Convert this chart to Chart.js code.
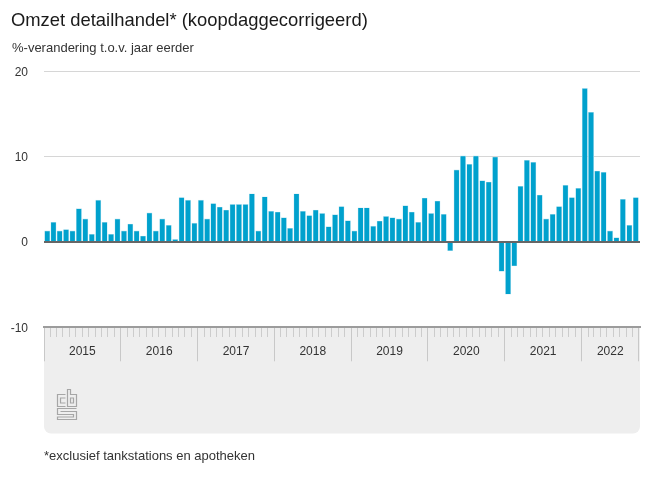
<!DOCTYPE html>
<html><head><meta charset="utf-8">
<script src="https://cdn.jsdelivr.net/npm/chart.js@4"></script>
<style>
html,body{margin:0;padding:0;background:#fff;width:650px;height:488px;overflow:hidden}
body{position:relative;font-family:"Liberation Sans",Arial,sans-serif;color:#333}
canvas{position:absolute;left:0;top:0}
.t{position:absolute;white-space:nowrap}
#title{left:11px;top:9px;font-size:18.4px;line-height:22px;color:#1a1a1a}
#sub{left:12px;top:40px;font-size:13px;line-height:15px}
#foot{left:44px;top:448px;font-size:13px;line-height:15px}
#logo{position:absolute;left:56px;top:389px}
</style></head><body>
<canvas id="c" width="650" height="488"></canvas>
<div class="t" id="title">Omzet detailhandel* (koopdaggecorrigeerd)</div>
<div class="t" id="sub">%-verandering t.o.v. jaar eerder</div>
<div class="t" id="foot">*exclusief tankstations en apotheken</div>
<svg id="logo" width="22" height="32" viewBox="0 0 22 32" fill="none" stroke="#a6a6a6" stroke-width="1.2">
<path d="M9.5 5.5H1.5V17.5H9.5M9.5 9H4.5V14H9.5M11.5 .5H14.5V5.5H20.5V17.5H11.5ZM14.5 9H17.5V14H14.5Z"/>
<path d="M20.5 19.5H1.5V25.5H17.5V28H1.5V30.5H20.5V22.5H4.5"/>
</svg>
<script>
const years = [2015, 2016, 2017, 2018, 2019, 2020, 2021, 2022];
const v2015 = [1.3, 2.3, 1.3, 1.45, 1.3, 3.9, 2.7, 0.9, 4.9, 2.3, 0.9, 2.7];
const v2016 = [1.3, 2.1, 1.3, 0.7, 3.4, 1.3, 2.7, 1.95, 0.3, 5.2, 4.9, 2.2];
const v2017 = [4.9, 2.7, 4.5, 4.1, 3.75, 4.4, 4.4, 4.4, 5.65, 1.3, 5.3, 3.6];
const v2018 = [3.5, 2.85, 1.6, 5.65, 3.6, 3.1, 3.75, 3.35, 1.8, 3.2, 4.15, 2.5];
const v2019 = [1.3, 4.0, 4.0, 1.85, 2.45, 3.0, 2.85, 2.7, 4.25, 3.5, 2.3, 5.15];
const v2020 = [3.35, 4.8, 3.25, -1.02, 8.44, 10.08, 9.1, 10.08, 7.19, 7.03, 9.96, -3.44];
const v2021 = [-6.13, -2.81, 6.53, 9.57, 9.34, 5.5, 2.7, 3.25, 4.15, 6.64, 5.2, 6.29];
const v2022 = [18.0, 15.2, 8.32, 8.17, 1.3, 0.5, 5.0, 1.95, 5.2];
const yearValues = [v2015, v2016, v2017, v2018, v2019, v2020, v2021, v2022];
const yTicks = [-10, 0, 10, 20];

const DAY = 86400000;
const dayOf = (y, m, d) => Date.UTC(y, m, d) / DAY;
const points = [], monthStarts = [], yearStarts = new Set(), midYears = new Map();
years.forEach((y, i) => {
  const vals = yearValues[i];
  yearStarts.add(dayOf(y, 0, 1));
  vals.forEach((v, m) => {
    const a = dayOf(y, m, 1), b = dayOf(y, m + 1, 1);
    monthStarts.push(a);
    points.push({x: (a + b) / 2, y: v});
  });
  midYears.set((dayOf(y, 0, 1) + dayOf(y, vals.length, 1)) / 2, String(y));
});
const lastYear = years[years.length - 1];
const dataEnd = dayOf(lastYear, yearValues[yearValues.length - 1].length, 1);
const xMax = dataEnd + 5;
yearStarts.add(dataEnd);

const frame = {
  id: 'frame',
  beforeDraw(chart) {
    const {ctx, chartArea: a} = chart;
    ctx.save();
    ctx.fillStyle = '#eeeeee';
    ctx.beginPath();
    ctx.roundRect(a.left, a.bottom, a.right - a.left, 433.5 - a.bottom, [0, 0, 7, 7]);
    ctx.fill();
    ctx.restore();
  },
  afterDatasetsDraw(chart) {
    const {ctx, chartArea: a, scales} = chart;
    const y0 = Math.round(scales.y.getPixelForValue(0));
    ctx.save();
    ctx.fillStyle = '#666666';
    ctx.fillRect(a.left, y0 - 1, a.right - a.left, 2);
    ctx.restore();
  }
};

new Chart(document.getElementById('c'), {
  type: 'bar',
  data: {datasets: [{
    data: points,
    backgroundColor: '#00a1cd',
    borderColor: '#b8e3f0',
    borderWidth: 0.6,
    barThickness: 5.3
  }]},
  options: {
    responsive: false,
    animation: false,
    layout: {padding: {top: 71.3, right: 10, left: 0, bottom: 0}},
    plugins: {legend: {display: false}, tooltip: {enabled: false}},
    scales: {
      x: {
        type: 'linear',
        offset: false,
        min: dayOf(years[0], 0, 1),
        max: xMax,
        afterBuildTicks(s) {
          const all = [...new Set([...monthStarts, dataEnd, ...midYears.keys()])].sort((a, b) => a - b);
          s.ticks = all.map(value => ({value}));
        },
        afterFit(s) { s.height = 160.7; },
        border: {color: '#9c9c9c', width: 2},
        grid: {
          offset: false,
          drawOnChartArea: false,
          drawTicks: true,
          tickLength: 34,
          tickWidth: 1,
          tickColor: c => {
            const val = c.tick && c.tick.value;
            return midYears.has(val) ? 'rgba(0,0,0,0)' : (yearStarts.has(val) ? '#c8c8c8' : '#cccccc');
          },
          tickBorderDash: c => {
            const val = c.tick && c.tick.value;
            return yearStarts.has(val) ? [] : [9, 100];
          }
        },
        ticks: {
          autoSkip: false,
          maxRotation: 0,
          minRotation: 0,
          padding: -17,
          color: '#333333',
          font: {family: '"Liberation Sans", Arial, sans-serif', size: 12},
          callback: v => midYears.get(v) || ''
        }
      },
      y: {
        min: -10,
        max: 20,
        afterBuildTicks(s) { s.ticks = yTicks.map(value => ({value})); },
        afterFit(s) { s.width = 44; },
        border: {display: false},
        grid: {
          drawTicks: false,
          color: c => (c.tick && c.tick.value > 0) ? '#d6d6d6' : 'rgba(0,0,0,0)',
          lineWidth: 1
        },
        ticks: {
          padding: 16,
          labelOffset: 1,
          color: '#333333',
          font: {family: '"Liberation Sans", Arial, sans-serif', size: 12},
          callback: v => String(v)
        }
      }
    }
  },
  plugins: [frame]
});
</script>
</body></html>
